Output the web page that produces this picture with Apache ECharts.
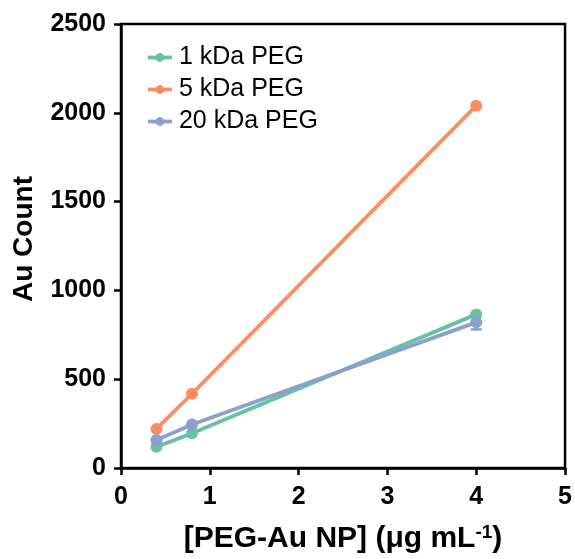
<!DOCTYPE html>
<html><head><meta charset="utf-8">
<script src="https://cdn.jsdelivr.net/npm/echarts@6/dist/echarts.min.js"></script>
<style>html,body{margin:0;padding:0;background:#fff}#c{width:575px;height:559px}</style>
</head><body><div id="c"></div>
<script>
var xValues = [0.4, 0.8, 4];
var seriesNames = ['1 kDa PEG', '5 kDa PEG', '20 kDa PEG'];
var peg1 = [120, 195, 865];
var peg5 = [220, 418, 2040];
var peg20 = [158, 245, 820];
var peg20Err = [0, 0, 40];
var colors = ['#66c2a5', '#fc8d62', '#8da0cb'];

var chart = echarts.init(document.getElementById('c'), null, {renderer: 'canvas'});
function pairs(vals){ return xValues.map(function(x,i){return [x, vals[i]];}); }
function lineSeries(name, vals, color){
  return {name: name, type: 'line', data: pairs(vals), symbol: 'circle', symbolSize: 12,
    lineStyle: {width: 3.8, color: color}, itemStyle: {color: color}, z: 3};
}
var errData = xValues.map(function(x,i){return [x, peg20[i]-peg20Err[i], peg20[i]+peg20Err[i]];}).filter(function(d,i){return peg20Err[i]>0;});
var option = {
  animation: false,
  grid: {left: 121, right: 6, top: 24, bottom: 89, show: true, borderColor: '#000', borderWidth: 2.5, backgroundColor: 'transparent'},
  legend: {
    left: 141, top: 40, orient: 'vertical', itemGap: 7, itemWidth: 24, itemHeight: 11,
    lineStyle: {width: 3.8},
    textStyle: {fontFamily: 'Liberation Sans', fontSize: 25, color: '#000', padding: [0,0,0,2]},
    data: seriesNames
  },
  xAxis: {
    type: 'value', min: 0, max: 5, interval: 1,
    axisLine: {show: true, lineStyle: {color: '#000', width: 2.5}},
    axisTick: {show: true, length: 7, lineStyle: {color: '#000', width: 2.5}},
    axisLabel: {fontFamily: 'Liberation Sans', fontWeight: 'bold', fontSize: 25, color: '#000', margin: 17},
    splitLine: {show: false},
    name: '[PEG-Au NP] (μg mL{sup|-1})', nameLocation: 'middle', nameGap: 55,
    nameTextStyle: {fontFamily: 'Liberation Sans', fontWeight: 'bold', fontSize: 30, color: '#000',
      rich: {sup: {fontFamily: 'Liberation Sans', fontWeight: 'bold', fontSize: 19, color: '#000', verticalAlign: 'top', padding: [0,0,13,0]}}}
  },
  yAxis: {
    type: 'value', min: 0, max: 2500, interval: 500,
    axisLine: {show: true, lineStyle: {color: '#000', width: 2.5}},
    axisTick: {show: true, length: 7, lineStyle: {color: '#000', width: 2.5}},
    axisLabel: {fontFamily: 'Liberation Sans', fontWeight: 'bold', fontSize: 25, color: '#000', margin: 15,
      formatter: function(v){ return String(v); }},
    splitLine: {show: false},
    name: 'Au Count', nameLocation: 'middle', nameGap: 83,
    nameTextStyle: {fontFamily: 'Liberation Sans', fontWeight: 'bold', fontSize: 28, color: '#000', padding: [0,0,0,14]}
  },
  series: [
    lineSeries(seriesNames[0], peg1, colors[0]),
    lineSeries(seriesNames[1], peg5, colors[1]),
    lineSeries(seriesNames[2], peg20, colors[2]),
    {
      type: 'custom', name: 'err', data: errData, z: 2,
      renderItem: function(params, api){
        var x = api.value(0);
        var lo = api.coord([x, api.value(1)]);
        var hi = api.coord([x, api.value(2)]);
        var w = 5.5;
        var st = {stroke: colors[2], lineWidth: 2.5};
        return {type: 'group', children: [
          {type: 'line', shape: {x1: lo[0], y1: lo[1], x2: hi[0], y2: hi[1]}, style: st},
          {type: 'line', shape: {x1: lo[0]-w, y1: lo[1], x2: lo[0]+w, y2: lo[1]}, style: st},
          {type: 'line', shape: {x1: hi[0]-w, y1: hi[1], x2: hi[0]+w, y2: hi[1]}, style: st}
        ]};
      }
    }
  ]
};
chart.setOption(option);
</script></body></html>
